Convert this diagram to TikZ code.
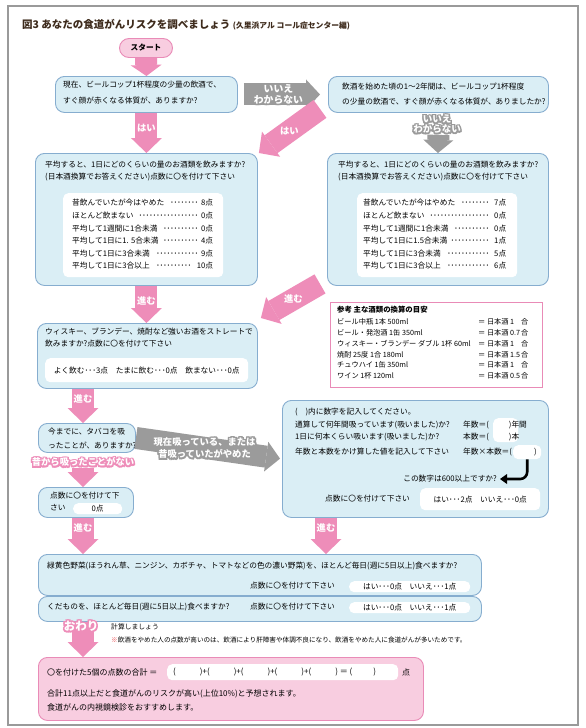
\documentclass[tikz,border=0pt]{standalone}
\usepackage{fontspec}
\setmainfont{Noto Sans CJK JP}
\usetikzlibrary{arrows.meta,calc}
\definecolor{boxfill}{HTML}{DAEEF5}
\definecolor{boxline}{HTML}{86ADCF}
\definecolor{pinkfill}{HTML}{F8CDE0}
\definecolor{pinkline}{HTML}{E98BB7}
\definecolor{arrowpink}{HTML}{EE8DB9}
\definecolor{arrowgray}{HTML}{9B9B9B}
\definecolor{framegray}{HTML}{9A9A9A}
\definecolor{titlebrown}{HTML}{3E2B1C}
\definecolor{notered}{HTML}{E8383D}
% one line of a points table: text, dotted leader, points
\newcommand{\ptsrow}[3]{\hbox to #1{#2\hskip 3pt\leaders\hbox to 3.5pt{\hss ･\hss}\hfill\hskip 3pt #3}}
% white text with a coloured halo
\newcommand{\halo}[2]{\leavevmode\rlap{\addfontfeatures{FakeBold=14}\color{#1}%
  \rlap{\raisebox{0.7pt}{\kern0.7pt #2}}\rlap{\raisebox{-0.7pt}{\kern-0.7pt #2}}%
  \rlap{\raisebox{0.7pt}{\kern-0.7pt #2}}\raisebox{-0.7pt}{\kern0.7pt #2}}#2}

\begin{document}
\begin{tikzpicture}[x=1pt,y=-1pt,
  font=\fontsize{7.7}{9}\selectfont,
  txt/.style={inner sep=0pt,anchor=west},
  qbox/.style={draw=boxline,fill=boxfill,line width=0.9pt,rounded corners=9pt,inner sep=0pt,anchor=north west},
  pbox/.style={draw=pinkline,fill=pinkfill,line width=0.9pt,rounded corners=9pt,inner sep=0pt,anchor=north west},
  wbox/.style={fill=white,rounded corners=5pt,inner sep=0pt,anchor=north west},
  parrow/.style={draw=arrowpink,line width=22pt,-{Triangle[width=31pt,length=#1,line width=0pt]}},
  parrow/.default=15pt,
  garrow/.style={draw=arrowgray,line width=22pt,-{Triangle[width=30pt,length=#1,line width=0pt]}},
  garrow/.default=14pt,
  lbl/.style={inner sep=0pt,text=white,align=center,font=\fontsize{9.3}{10.5}\selectfont\bfseries}
]
  \fill[white] (0,0) rectangle (586,728);
  \useasboundingbox (0,0) rectangle (586,728);
  \draw[framegray,line width=1.1pt] (8,6) rectangle (578,725);
  \node[txt,text=titlebrown,font=\fontsize{10.5}{12}\selectfont\bfseries] (title) at (22,25)
    {図3 あなたの食道がんリスクを調べましょう {\fontsize{7.8}{9}\selectfont (久里浜アル コール症センター編)}};

  % column coordinates for the vertical arrows
  \coordinate (lcol) at (83,0);
  \coordinate (rcol) at (326,0);

  % start
  \node[draw=pinkline,fill=pinkfill,line width=0.9pt,rounded corners=9.5pt,minimum width=53pt,
        minimum height=19pt,inner sep=0pt,font=\fontsize{7.7}{9}\selectfont\bfseries] (start) at (146,48) {スタート};

  % boxes
  \node[qbox,minimum width=182pt,minimum height=36pt] (q1) at (55,76) {};
  \node[qbox,minimum width=220pt,minimum height=36pt] (q2) at (328,76) {};
  \node[qbox,minimum width=222pt,minimum height=132pt] (q3) at (35,153) {};
  \node[wbox,minimum width=160pt,minimum height=84pt] (t3) at (63,193) {};
  \node[qbox,minimum width=221pt,minimum height=132pt] (q4) at (327,153) {};
  \node[wbox,minimum width=160pt,minimum height=84pt] (t4) at (357,193) {};
  \node[qbox,minimum width=220pt,minimum height=65pt] (q5) at (37,323) {};
  \node[wbox,minimum width=203pt,minimum height=24pt] (t5) at (45,358) {};
  \node[draw=pinkline,fill=white,line width=1pt,inner sep=0pt,anchor=north west,
        minimum width=212pt,minimum height=85pt] (ref) at (330,302) {};
  \node[qbox,minimum width=97pt,minimum height=29pt] (q6) at (38,423) {};
  \node[qbox,minimum width=95pt,minimum height=30pt] (q7) at (38,487) {};
  \node[wbox,minimum width=49pt,minimum height=11pt] (t7) at (73,503) {};
  \node[qbox,minimum width=266pt,minimum height=117pt] (q8) at (282,400) {};
  \node[qbox,minimum width=443pt,minimum height=41pt] (q9) at (38,554) {};
  \node[qbox,minimum width=443pt,minimum height=25pt] (q10) at (38,596) {};
  \node[pbox,minimum width=385pt,minimum height=63pt] (q11) at (38,657) {};

  % texts of the first questions
  \node[txt] (q1a) at (63,85) {現在、ビールコップ1杯程度の少量の飲酒で、};
  \node[txt] (q1b) at (63,101) {すぐ顔が赤くなる体質が、ありますか?};
  \node[txt] (q2a) at (342,87) {飲酒を始めた頃の1～2年間は、ビールコップ1杯程度};
  \node[txt] (q2b) at (342,102) {の少量の飲酒で、すぐ顔が赤くなる体質が、ありましたか?};
  \node[txt] (q3a) at (45,165) {平均すると、1日にどのくらいの量のお酒類を飲みますか?};
  \node[txt] (q3b) at (45,177) {(日本酒換算でお答えください)点数に〇を付けて下さい};
  \node[txt] (q4a) at (338,165) {平均すると、1日にどのくらいの量のお酒類を飲みますか?};
  \node[txt] (q4b) at (338,177) {(日本酒換算でお答えください)点数に〇を付けて下さい};
  \foreach \rt/\rp [count=\i] in {昔飲んでいたが今はやめた/8点,ほとんど飲まない/0点,
      平均して1週間に1合未満/0点,平均して1日に1. 5合未満/4点,平均して1日に3合未満/9点,平均して1日に3合以上/10点}
    \node[txt] (r3-\i) at (72,{190.4+12.6*\i}) {\ptsrow{141pt}{\rt}{\rp}};
  \foreach \rt/\rp [count=\i] in {昔飲んでいたが今はやめた/7点,ほとんど飲まない/0点,
      平均して1週間に1合未満/0点,平均して1日に1.5合未満/1点,平均して1日に3合未満/5点,平均して1日に3合以上/6点}
    \node[txt] (r4-\i) at (363,{190.4+12.6*\i}) {\ptsrow{143pt}{\rt}{\rp}};

  % strong drinks
  \node[txt] (q5a) at (45,332) {ウィスキー、ブランデー、焼酎など強いお酒をストレートで};
  \node[txt] (q5b) at (45,344) {飲みますか?点数に〇を付けて下さい};
  \node[inner sep=0pt] (t5a) at (t5.center) {よく飲む･･･3点　たまに飲む･･･0点　飲まない･･･0点};

  % conversion table
  \node[txt,font=\fontsize{7.4}{9}\selectfont\bfseries] (refh) at (337,310) {参考 主な酒類の換算の目安};
  \foreach \lt/\rv [count=\i] in {ビール中瓶 1本 500ml/1,ビール・発泡酒 1缶 350ml/0.7,
      ウィスキー・ブランデー ダブル 1杯 60ml/1,焼酎 25度 1合 180ml/1.5,チュウハイ 1缶 350ml/1,ワイン 1杯 120ml/0.5}{
    \node[txt,font=\fontsize{7.2}{9}\selectfont] (refl-\i) at (337,{311.2+10.8*\i}) {\lt};
    \node[txt,font=\fontsize{7.2}{9}\selectfont] (refr-\i) at (478,{311.2+10.8*\i}) {＝ 日本酒 \makebox[11pt][l]{\rv}合};
  }

  % tobacco
  \node[txt] (q6a) at (48,432) {今までに、タバコを吸};
  \node[txt] (q6b) at (48,445) {ったことが、ありますか?};
  \node[txt] (q7a) at (50,496) {点数に〇を付けて下};
  \node[txt] (q7b) at (50,508) {さい};
  \node[inner sep=0pt] (t7a) at (t7.center) {0点};

  \node[wbox,minimum width=25pt,minimum height=24pt] (p1) at (493,418) {};
  \node[wbox,minimum width=28pt,minimum height=14pt] (p3) at (513,445) {};
  \node[txt] (q8a) at (295,412) {(　)内に数字を記入してください。};
  \node[txt] (q8b) at (295,425) {通算して何年間吸っています(吸いました)か?};
  \node[txt] (q8c) at (295,437) {1日に何本くらい吸います(吸いました)か?};
  \node[txt] (q8d) at (295,452) {年数と本数をかけ算した値を記入して下さい};
  \node[txt] (q8e) at (463,425) {年数＝(\hspace{20pt})年間};
  \node[txt] (q8f) at (463,437) {本数＝(\hspace{20pt})本};
  \node[txt] (q8g) at (463,452) {年数×本数＝(\hspace{22pt})};
  \node[inner sep=0pt,anchor=east] (ask) at (497,479) {この数字は600以上ですか?};
  \node[txt] (q8h) at (325,499) {点数に〇を付けて下さい};
  \node[wbox,minimum width=120pt,minimum height=22pt] (t8) at (420,488) {};
  \node[inner sep=0pt] (t8a) at (t8.center) {はい･･･2点　いいえ･･･0点};
  \draw[line width=2.6pt,rounded corners=7pt,shorten >=3pt,
        -{Triangle[length=7pt,width=10pt,line width=0pt]}] (p3.south) |- (ask.east);

  % vegetables and fruit
  \node[txt] (q9a) at (47,566) {緑黄色野菜(ほうれん草、ニンジン、カボチャ、トマトなどの色の濃い野菜)を、ほとんど毎日(週に5日以上)食べますか?};
  \node[txt] (q9b) at (250,586) {点数に〇を付けて下さい};
  \node[wbox,minimum width=121pt,minimum height=11pt] (t9) at (349,581) {};
  \node[inner sep=0pt] (t9a) at (t9.center) {はい･･･0点　いいえ･･･1点};
  \node[txt] (q10a) at (47,607) {くだものを、ほとんど毎日(週に5日以上)食べますか?};
  \node[txt] (q10b) at (250,607) {点数に〇を付けて下さい};
  \node[wbox,minimum width=121pt,minimum height=11pt] (t10) at (349,602) {};
  \node[inner sep=0pt] (t10a) at (t10.center) {はい･･･0点　いいえ･･･1点};

  % notes and total
  \node[txt,font=\fontsize{6.8}{8}\selectfont] (calc) at (111,627) {計算しましょう};
  \node[txt,font=\fontsize{6.6}{8}\selectfont] (note) at (111,640)
    {{\color{notered}※}飲酒をやめた人の点数が高いのは、飲酒により肝障害や体調不良になり、飲酒をやめた人に食道がんが多いためです。};
  \node[wbox,minimum width=231pt,minimum height=16pt] (t11) at (167,664) {};
  \node[txt,font=\fontsize{8}{9}\selectfont] (q11a) at (47,672) {〇を付けた5個の点数の合計 ＝};
  \node[txt,font=\fontsize{8}{9}\selectfont] (t11a) at (173,672)
    {(\hspace{24pt})+(\hspace{24pt})+(\hspace{24pt})+(\hspace{24pt})+(\hspace{24pt}) ＝ (\hspace{21pt})};
  \node[txt,font=\fontsize{8}{9}\selectfont] (q11b) at (402,672) {点};
  \node[txt,font=\fontsize{8}{9}\selectfont] (q11c) at (47,694) {合計11点以上だと食道がんのリスクが高い(上位10\%)と予想されます。};
  \node[txt,font=\fontsize{8}{9}\selectfont] (q11d) at (47,707) {食道がんの内視鏡検診をおすすめします。};

  % arrows
  \draw[parrow=11pt] (start.south) -- (q1.north);
  \draw[garrow,shorten <=6pt,shorten >=8pt] (q1.east) -- node[lbl,pos=0.45,font=\fontsize{9.8}{10.5}\selectfont\bfseries]
    {\halo{arrowgray}{いいえ}\\\halo{arrowgray}{わからない}} (q2.west);
  \draw[parrow] (q1.south) -- node[lbl,pos=0.39] {\halo{arrowpink}{はい}} (q3.north);
  \draw[parrow] ($(q2.south west)+(-8,-4)$) -- node[lbl] {\halo{arrowpink}{はい}} ($(q3.north east)+(1,0)$);
  \node[lbl,font=\fontsize{9.5}{10}\selectfont\bfseries] (nolbl) at (437,124)
    {\halo{arrowgray}{いいえ}\\\halo{arrowgray}{わからない}};
  \draw[garrow=13pt] ($(q2.south)+(0,22)$) -- (q4.north);
  \draw[parrow] (q3.south) -- node[lbl,pos=0.4] {\halo{arrowpink}{進む}} (q3.south |- q5.north);
  \draw[parrow] ($(q4.south west)+(-7,-2)$) -- node[lbl,pos=0.45] {\halo{arrowpink}{進む}} ($(q5.north east)+(3,-5)$);
  \draw[parrow] (lcol |- q5.south) -- node[lbl,pos=0.3] {\halo{arrowpink}{進む}} (lcol |- q6.north);
  \draw[garrow,shorten >=2pt] (q6.east) -- node[lbl,pos=0.47]
    {\halo{arrowgray}{現在吸っている、または}\\[1pt]\halo{arrowgray}{昔吸っていたがやめた}} (q8.west);
  \node[lbl] (neverlbl) at (83,462) {\halo{arrowpink}{昔から吸ったことがない}};
  \draw[parrow] ($(lcol |- q6.south)+(0,15)$) -- (lcol |- q7.north);
  \draw[parrow] (lcol |- q7.south) -- node[lbl,pos=0.27] {\halo{arrowpink}{進む}} (lcol |- q9.north);
  \draw[parrow] (rcol |- q8.south) -- node[lbl,pos=0.27] {\halo{arrowpink}{進む}} (rcol |- q9.north);
  \draw[parrow] (lcol |- q10.south) -- (lcol |- q11.north);
  \node[lbl,font=\fontsize{11.5}{12}\selectfont\bfseries] (endlbl) at (81,626) {\halo{arrowpink}{おわり}};
\end{tikzpicture}
\end{document}
